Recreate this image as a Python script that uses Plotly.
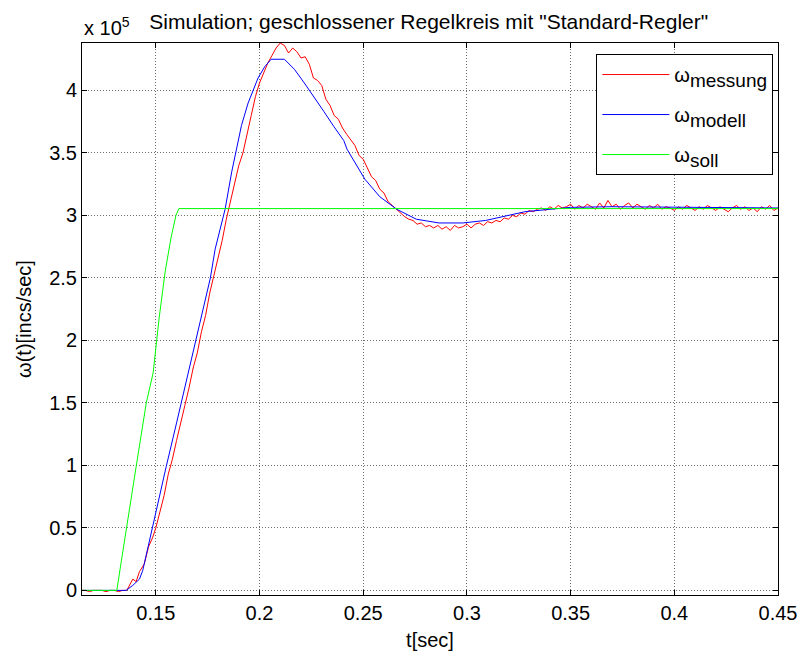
import plotly.graph_objects as go

# time (s) and values in units of 1e5 incs/sec
t_soll = [0.1144, 0.1312, 0.1329, 0.1365, 0.1406, 0.1454, 0.1487, 0.1516, 0.1545, 0.1573, 0.1597, 0.1611, 0.45]
w_soll = [0.0, 0.0, 0.185, 0.58, 1.00, 1.50, 1.74, 2.18, 2.55, 2.82, 3.00, 3.055, 3.055]

t_modell = [0.1144, 0.1357, 0.1389, 0.1421, 0.1437, 0.1452, 0.1468, 0.1484, 0.1492, 0.155, 0.160,
            0.165, 0.170, 0.1763, 0.1786, 0.1834, 0.1866, 0.1890, 0.1913, 0.1945, 0.1970, 0.1993,
            0.2025, 0.2056, 0.2120, 0.2168, 0.2216, 0.2263, 0.2311, 0.2359, 0.2406, 0.2422, 0.2508,
            0.258, 0.2661, 0.2756, 0.2865, 0.298, 0.309, 0.328, 0.3375, 0.350, 0.370, 0.400, 0.450]
w_modell = [0.0, 0.0, 0.04, 0.09, 0.16, 0.27, 0.40, 0.53, 0.58, 0.99, 1.34,
            1.70, 2.05, 2.50, 2.73, 3.05, 3.35, 3.55, 3.72, 3.90, 4.01, 4.10,
            4.19, 4.25, 4.25, 4.17, 4.06, 3.95, 3.83, 3.71, 3.60, 3.53, 3.29,
            3.15, 3.05, 2.97, 2.94, 2.94, 2.96, 3.03, 3.045, 3.065, 3.07, 3.065, 3.06]

t_messung = [0.114, 0.116, 0.118, 0.120, 0.122, 0.124, 0.126, 0.128, 0.130, 0.132, 0.134, 0.136,
             0.1389, 0.1405, 0.1421, 0.1444, 0.1465, 0.1484, 0.150, 0.152, 0.154, 0.156, 0.158,
             0.160, 0.162, 0.164, 0.166, 0.168, 0.170, 0.172, 0.174, 0.176, 0.178, 0.180, 0.182,
             0.184, 0.186, 0.188, 0.190, 0.192, 0.194, 0.196, 0.198, 0.200, 0.202, 0.204, 0.206,
             0.208, 0.210, 0.212, 0.214, 0.216, 0.218, 0.220, 0.222, 0.224, 0.226, 0.228, 0.230,
             0.232, 0.234, 0.236, 0.238, 0.240, 0.242, 0.244, 0.246, 0.248, 0.250, 0.252, 0.254,
             0.256, 0.258, 0.260, 0.262, 0.264, 0.266, 0.268, 0.270, 0.272, 0.274, 0.276, 0.278,
             0.280, 0.282, 0.284, 0.286, 0.288, 0.290, 0.292, 0.294, 0.296, 0.298, 0.300, 0.302,
             0.304, 0.306, 0.308, 0.310, 0.312, 0.314, 0.316, 0.318, 0.320, 0.322, 0.324, 0.326,
             0.328, 0.330, 0.332, 0.334, 0.336, 0.338, 0.340, 0.342, 0.344, 0.346, 0.348, 0.350,
             0.352, 0.354, 0.356, 0.358, 0.360, 0.362, 0.364, 0.366, 0.368, 0.370, 0.372, 0.374,
             0.376, 0.378, 0.380, 0.382, 0.384, 0.386, 0.388, 0.390, 0.392, 0.394, 0.396, 0.398,
             0.400, 0.402, 0.404, 0.406, 0.408, 0.410, 0.412, 0.414, 0.416, 0.418, 0.420, 0.422,
             0.424, 0.426, 0.428, 0.430, 0.432, 0.434, 0.436, 0.438, 0.440, 0.442, 0.444, 0.446,
             0.448, 0.450]
w_messung = [0.0, 0.0, -0.01, 0.0, 0.0, 0.0, -0.01, 0.0, 0.0, -0.01, 0.0, 0.0,
             0.09, 0.07, 0.15, 0.21, 0.35, 0.42, 0.50, 0.64, 0.76, 0.93, 1.05,
             1.20, 1.33, 1.48, 1.62, 1.78, 1.90, 2.07, 2.20, 2.38, 2.52, 2.66, 2.80,
             2.97, 3.12, 3.25, 3.40, 3.50, 3.64, 3.80, 3.95, 4.06, 4.14, 4.22, 4.28,
             4.34, 4.38, 4.36, 4.30, 4.34, 4.31, 4.26, 4.27, 4.21, 4.10, 4.08, 4.04,
             3.93, 3.88, 3.80, 3.77, 3.70, 3.65, 3.60, 3.56, 3.48, 3.45, 3.38, 3.31,
             3.28, 3.21, 3.18, 3.11, 3.08, 3.05, 3.02, 2.99, 2.97, 2.96, 2.93, 2.94,
             2.91, 2.92, 2.90, 2.92, 2.89, 2.91, 2.88, 2.92, 2.90, 2.91, 2.93, 2.90,
             2.93, 2.94, 2.92, 2.95, 2.94, 2.96, 2.95, 2.98, 2.97, 3.00, 2.99, 3.02,
             3.01, 3.04, 3.03, 3.05, 3.06, 3.04, 3.07, 3.05, 3.08, 3.06, 3.07, 3.09,
             3.05, 3.08, 3.06, 3.09, 3.07, 3.05, 3.10, 3.06, 3.12, 3.07, 3.09, 3.05,
             3.08, 3.10, 3.06, 3.09, 3.07, 3.05, 3.08, 3.06, 3.09, 3.05, 3.07, 3.06,
             3.04, 3.07, 3.05, 3.08, 3.06, 3.04, 3.07, 3.05, 3.08, 3.06, 3.04, 3.07,
             3.05, 3.03, 3.06, 3.08, 3.05, 3.07, 3.04, 3.06, 3.03, 3.07, 3.05, 3.08,
             3.04, 3.06]

x_ticks = [0.15, 0.2, 0.25, 0.3, 0.35, 0.4, 0.45]
x_ticklabels = ["0.15", "0.2", "0.25", "0.3", "0.35", "0.4", "0.45"]
y_ticks = [0, 0.5, 1, 1.5, 2, 2.5, 3, 3.5, 4]
y_ticklabels = ["0", "0.5", "1", "1.5", "2", "2.5", "3", "3.5", "4"]

FONT = "Liberation Sans, Arial, sans-serif"


def lg(base, sub):
    return base + "<sub><span style='font-size:19px'>" + sub + "</span></sub>"


fig = go.Figure()
fig.add_trace(go.Scatter(x=t_messung, y=w_messung, mode="lines", name=lg("ω", "messung"),
                         line=dict(color="#ff0000", width=1), legendgroup="a"))
fig.add_trace(go.Scatter(x=t_modell, y=w_modell, mode="lines", name=lg("ω", "modell"),
                         line=dict(color="#0000ff", width=1), legendgroup="b"))
fig.add_trace(go.Scatter(x=t_soll, y=w_soll, mode="lines", name=lg("ω", "soll"),
                         line=dict(color="#00ff00", width=1), legendgroup="c"))

axis_common = dict(
    showline=True, linecolor="black", linewidth=1, mirror="ticks",
    ticks="inside", ticklen=5, tickcolor="black", tickwidth=1,
    showgrid=True, gridcolor="#6e6e6e", griddash="1px,2px", gridwidth=1,
    zeroline=False, tickfont=dict(family=FONT, size=20, color="black"),
)

fig.update_layout(
    width=809, height=659,
    margin=dict(l=82, r=23, t=43, b=61),
    paper_bgcolor="white", plot_bgcolor="white",
    font=dict(family=FONT, size=20, color="black"),
    title=dict(text='Simulation; geschlossener Regelkreis mit "Standard-Regler"',
               x=0.530, xanchor="center", y=0.967, yanchor="middle",
               font=dict(family=FONT, size=21, color="black")),
    xaxis=dict(range=[0.1144, 0.45], tickvals=x_ticks, ticktext=x_ticklabels,
               title=dict(text="t[sec]", standoff=9, font=dict(family=FONT, size=20)),
               **axis_common),
    yaxis=dict(range=[-0.037, 4.38], tickvals=y_ticks, ticktext=y_ticklabels,
               title=dict(text="ω(t)[incs/sec]", standoff=12, font=dict(family=FONT, size=20)),
               **axis_common),
    showlegend=True,
    legend=dict(x=0.739, y=0.98, xanchor="left", yanchor="top",
                bgcolor="white", bordercolor="black", borderwidth=1,
                font=dict(family=FONT, size=20, color="black"),
                tracegroupgap=11, itemwidth=67),
    annotations=[dict(text="x 10<sup>5</sup>", xref="paper", yref="paper", x=0, y=1.0,
                      xanchor="left", yanchor="bottom", showarrow=False, yshift=2,
                      font=dict(family=FONT, size=20, color="black"))],
)

fig.write_html("out.html")
